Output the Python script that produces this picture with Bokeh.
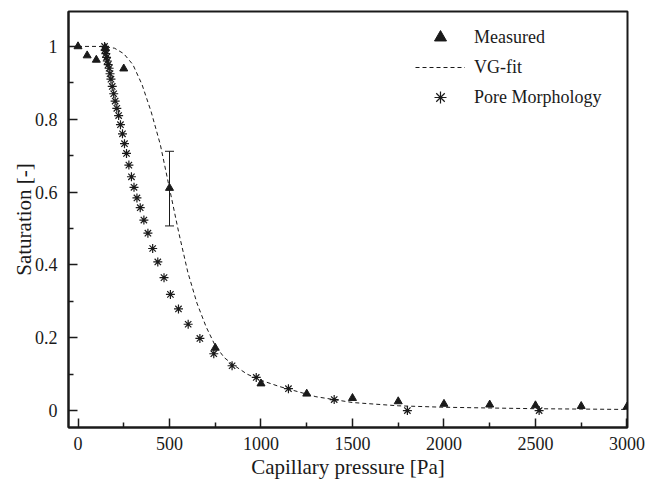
from bokeh.plotting import figure
from bokeh.models import (Range1d, FixedTicker, Legend, LegendItem, Whisker,
                          ColumnDataSource, TeeHead)
from bokeh.embed import file_html
from bokeh.resources import INLINE

# ---------------- data ----------------
measured_p = [0, 50, 100, 150, 250, 500, 750, 1000, 1250, 1500, 1750, 2000, 2250, 2500, 2750, 3000]
measured_s = [1.0, 0.975, 0.963, 0.995, 0.939, 0.611, 0.172, 0.074, 0.046, 0.034, 0.025, 0.018, 0.016, 0.014, 0.012, 0.010]

err_p = [500]
err_upper = [0.712]
err_lower = [0.507]

vg_p = [0, 100, 150, 200, 250, 300, 350, 400, 450, 500, 550, 600, 650, 700,
        750, 800, 850, 924, 1000, 1100, 1179, 1300, 1500, 1750, 2000, 2500, 3000]
vg_s = [1.0, 1.0, 0.999, 0.995, 0.98, 0.95, 0.895, 0.82, 0.73, 0.61, 0.49,
        0.38, 0.295, 0.23, 0.178, 0.145, 0.125, 0.10, 0.083, 0.066, 0.055, 0.038,
        0.022, 0.013, 0.009, 0.005, 0.003]

pm_p = [145, 148, 152, 156, 160, 165, 170, 175, 180, 187, 195, 203, 212, 222, 232, 243,
        254, 265, 278, 292, 306, 322, 340, 360, 382, 408, 436, 470, 505, 549, 602, 666,
        742, 842, 974, 1150, 1400, 1800, 2520]
pm_s = [1.0, 0.99, 0.98, 0.97, 0.96, 0.95, 0.94, 0.925, 0.91, 0.89, 0.87, 0.85, 0.83,
        0.81, 0.785, 0.76, 0.733, 0.706, 0.674, 0.642, 0.613, 0.584, 0.557, 0.523, 0.487,
        0.445, 0.408, 0.365, 0.319, 0.279, 0.237, 0.198, 0.156, 0.123, 0.091, 0.06, 0.03,
        0.0, 0.0]

x_ticks = [0, 500, 1000, 1500, 2000, 2500, 3000]
x_minor = [250, 750, 1250, 1750, 2250, 2750]
y_ticks = [0, 0.2, 0.4, 0.6, 0.8, 1]
y_tick_labels = ["0", "0.2", "0.4", "0.6", "0.8", "1"]
y_minor = [0.1, 0.3, 0.5, 0.7, 0.9]

FONT = "Liberation Serif"
INK = "#1a1a1a"

p = figure(width=645, height=481, output_backend="svg", toolbar_location=None,
           x_range=Range1d(-52, 3003), y_range=Range1d(-0.0466, 1.0959),
           min_border_left=68, min_border_right=18, min_border_top=11,
           min_border_bottom=53)

p.xgrid.visible = False
p.ygrid.visible = False
p.outline_line_color = INK
p.outline_line_width = 2
p.background_fill_color = "white"
p.border_fill_color = "white"

# axes
p.xaxis.ticker = FixedTicker(ticks=x_ticks, minor_ticks=x_minor)
p.yaxis.ticker = FixedTicker(ticks=y_ticks, minor_ticks=y_minor)
p.yaxis.major_label_overrides = {t: l for t, l in zip(y_ticks, y_tick_labels)}
p.xaxis.axis_label = "Capillary pressure [Pa]"
p.yaxis.axis_label = "Saturation [-]"
for ax in (p.xaxis, p.yaxis):
    ax.axis_line_color = INK
    ax.axis_line_width = 2
    ax.major_tick_in = 9
    ax.major_tick_out = 0
    ax.minor_tick_in = 5
    ax.minor_tick_out = 0
    ax.major_tick_line_color = INK
    ax.major_tick_line_width = 1.5
    ax.minor_tick_line_color = INK
    ax.minor_tick_line_width = 1.5
    ax.major_label_text_font = FONT
    ax.major_label_text_font_size = "18px"
    ax.major_label_text_color = INK
    ax.axis_label_text_font = FONT
    ax.axis_label_text_font_size = "21px"
    ax.axis_label_text_font_style = "normal"
    ax.axis_label_text_color = INK
p.xaxis.major_label_standoff = 9
p.yaxis.major_label_standoff = 11
p.xaxis.axis_label_standoff = 2
p.yaxis.axis_label_standoff = -4

# glyphs
vg = p.line(vg_p, vg_s, line_color=INK, line_width=1, line_dash="4 3")
pm = p.scatter(pm_p, pm_s, marker="asterisk", size=9, line_color=INK, line_width=1.2)
err_src = ColumnDataSource(data=dict(base=err_p, upper=err_upper, lower=err_lower))
p.add_layout(Whisker(source=err_src, base="base", upper="upper", lower="lower",
                     dimension="height", line_color=INK, line_width=1,
                     upper_head=TeeHead(size=9, line_color=INK, line_width=1),
                     lower_head=TeeHead(size=9, line_color=INK, line_width=1)))
ms = p.scatter(measured_p, measured_s, marker="triangle", size=8,
               fill_color=INK, line_color=INK)

legend = Legend(items=[LegendItem(label="Measured", renderers=[ms]),
                       LegendItem(label="VG-fit", renderers=[vg]),
                       LegendItem(label="Pore Morphology", renderers=[pm])],
                location=(347, 315), orientation="vertical",
                glyph_width=50, glyph_height=30, label_height=30, spacing=0,
                padding=0, margin=0, label_standoff=9,
                border_line_color=None, background_fill_alpha=0,
                label_text_font=FONT, label_text_font_size="18px",
                label_text_color=INK)
p.add_layout(legend, "center")

open("out.html", "w").write(file_html(p, INLINE))
